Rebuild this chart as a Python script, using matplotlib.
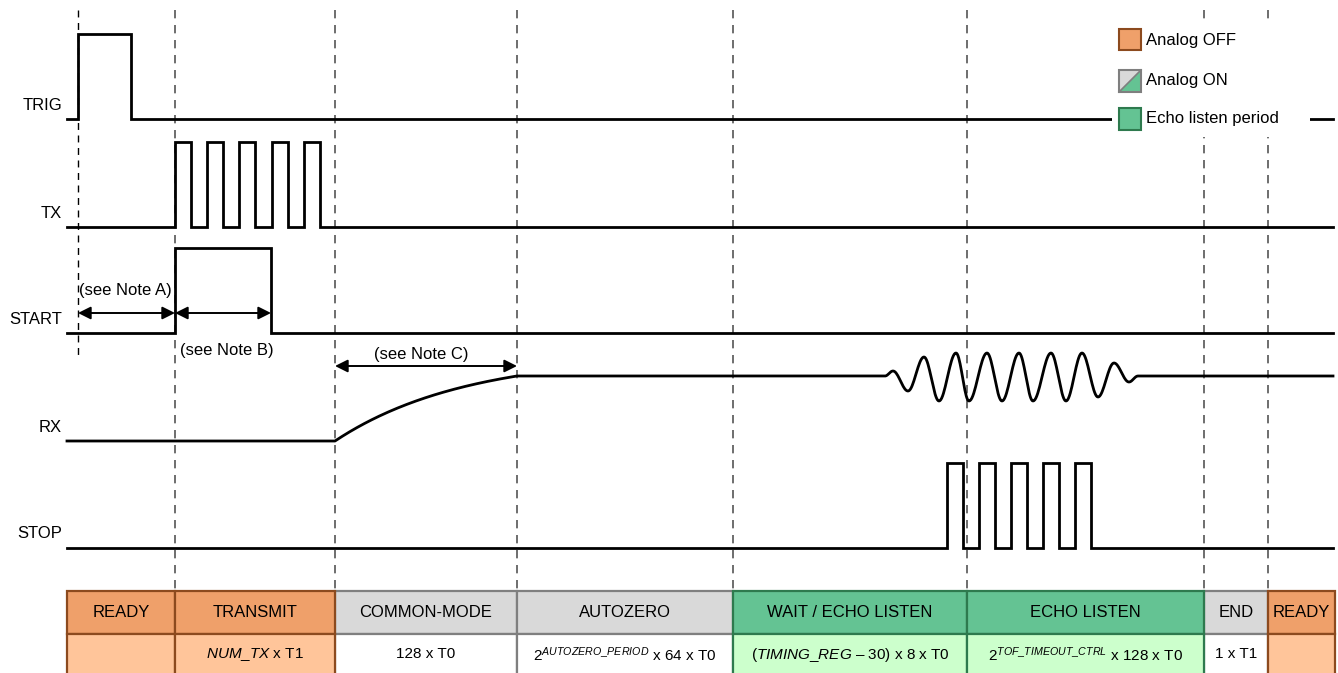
import numpy as np
import matplotlib
matplotlib.use('Agg')
import matplotlib.pyplot as plt
from matplotlib.patches import Rectangle, Polygon

plt.rcParams['font.family'] = ['Liberation Sans', 'DejaVu Sans']
plt.rcParams['mathtext.fontset'] = 'custom'
plt.rcParams['mathtext.rm'] = 'Liberation Sans'
plt.rcParams['mathtext.it'] = 'Liberation Sans:italic'

# ---- data (pixel units of the original drawing) ----
signal_names = ['TRIG', 'TX', 'START', 'RX', 'STOP']
low_levels = [119, 227, 333, 441, 548]
high_levels = [34, 142, 248, 376, 463]

trig_edges = [78, 131]
tx_edges = [175, 191, 207, 223, 239, 255, 272, 288, 304, 320]
start_edges = [175, 271]
stop_edges = [947, 963, 979, 995, 1011, 1027, 1043, 1059, 1075, 1091]

# RX: settle from common mode to bias, then echo burst (extrema)
rx_settle = [335, 517]
rx_burst_x = [885, 893, 908, 924, 939, 956, 969, 987, 1002, 1019, 1033, 1051, 1066, 1082, 1098, 1114, 1129, 1138]
rx_burst_y = [376, 371, 391, 357, 401, 353, 401, 353, 401, 353, 401, 353, 401, 353, 397, 363, 382, 376]

phase_bounds = [67, 175, 335, 517, 733, 967, 1204, 1268, 1335]
phase_names = ['READY', 'TRANSMIT', 'COMMON-MODE', 'AUTOZERO', 'WAIT / ECHO LISTEN',
               'ECHO LISTEN', 'END', 'READY']
phase_times = ['', r'$\mathit{NUM\_TX}$ x T1', '128 x T0',
               r'2$^{\mathit{AUTOZERO\_PERIOD}}$ x 64 x T0',
               r'($\mathit{TIMING\_REG}$ – 30) x 8 x T0',
               r'2$^{\mathit{TOF\_TIMEOUT\_CTRL}}$ x 128 x T0', '1 x T1', '']
phase_kind = ['off', 'off', 'on', 'on', 'echo', 'echo', 'on', 'off']

marker_x = [78, 175, 335, 517, 733, 967, 1204, 1268]

x_left = 67
x_right = 1333
fs = 12

styles = {
    'off': dict(head='#EFA06A', cell='#FFC59A', edge='#8C4A1E'),
    'on': dict(head='#D9D9D9', cell='#FFFFFF', edge='#7F7F7F'),
    'echo': dict(head='#64C393', cell='#CCFFCC', edge='#2E7A4E'),
}


def step_wave(edges, low, high):
	xs = [x_left]
	ys = [low]
	level = low
	for e in edges:
		xs += [e, e]
		ys += [level, high if level == low else low]
		level = ys[-1]
	xs.append(x_right)
	ys.append(level)
	return xs, ys


fig = plt.figure(figsize=(13.38, 6.73), dpi=100)
ax = fig.add_axes([0, 0, 1, 1])
ax.set_xlim(0, 1338)
ax.set_ylim(673, 0)
ax.axis('off')

# dashed phase markers
for i, mx in enumerate(marker_x):
	if i == 0:
		ax.plot([mx, mx], [10, 357], color='black', lw=1.0, ls=(0, (5, 4)), zorder=1)
	else:
		ax.plot([mx, mx], [10, 591], color='#555555', lw=1.2, ls=(0, (5, 4)), zorder=1)

lw_sig = 2.0
for edges, k in [(trig_edges, 0), (tx_edges, 1), (start_edges, 2), (stop_edges, 4)]:
	xs, ys = step_wave(edges, low_levels[k], high_levels[k])
	ax.plot(xs, ys, color='black', lw=lw_sig, solid_joinstyle='miter', zorder=3)

# RX
rx_lo = low_levels[3]
rx_hi = high_levels[3]
t = np.linspace(0, 1, 100)
k_rc = 1.4
curve_y = rx_lo - (rx_lo - rx_hi) * (1 - np.exp(-k_rc * t)) / (1 - np.exp(-k_rc))
curve_x = rx_settle[0] + (rx_settle[1] - rx_settle[0]) * t
bx = []
by = []
for i in range(len(rx_burst_x) - 1):
	s = np.linspace(0, 1, 20)
	bx += list(rx_burst_x[i] + (rx_burst_x[i + 1] - rx_burst_x[i]) * s)
	by += list(rx_burst_y[i] + (rx_burst_y[i + 1] - rx_burst_y[i]) * (1 - np.cos(np.pi * s)) / 2)
rx_x = [x_left, rx_settle[0]] + list(curve_x) + bx + [x_right]
rx_y = [rx_lo, rx_lo] + list(curve_y) + by + [rx_hi]
ax.plot(rx_x, rx_y, color='black', lw=lw_sig, zorder=3)

# signal names
for name, lo in zip(signal_names, low_levels):
	ax.text(62, lo - 14, name, ha='right', va='center', fontsize=fs)

# notes with double arrows
arrow_kw = dict(arrowstyle='<|-|>', color='black', lw=1.4, mutation_scale=19, shrinkA=0, shrinkB=0)
ax.annotate('', xy=(78, 313), xytext=(175, 313), arrowprops=arrow_kw, zorder=4)
ax.annotate('', xy=(175, 313), xytext=(271, 313), arrowprops=arrow_kw, zorder=4)
ax.annotate('', xy=(335, 366), xytext=(517, 366), arrowprops=arrow_kw, zorder=4)
ax.text(79, 291, '(see Note A)', ha='left', va='center', fontsize=fs)
ax.text(180, 351, '(see Note B)', ha='left', va='center', fontsize=fs)
ax.text(421, 355, '(see Note C)', ha='center', va='center', fontsize=fs)

# legend box (covers the TRIG line and markers)
ax.add_patch(Rectangle((1112, 20), 198, 117, facecolor='white', edgecolor='none', zorder=5))
ax.add_patch(Rectangle((1119, 29), 22, 21, facecolor=styles['off']['head'],
                       edgecolor=styles['off']['edge'], lw=1.5, zorder=6))
ax.add_patch(Polygon([(1119, 70), (1141, 70), (1119, 92)], closed=True,
                     facecolor='#D9D9D9', edgecolor='none', zorder=6))
ax.add_patch(Polygon([(1141, 70), (1141, 92), (1119, 92)], closed=True,
                     facecolor=styles['echo']['head'], edgecolor='none', zorder=6))
ax.add_patch(Rectangle((1119, 70), 22, 22, facecolor='none', edgecolor='#7F7F7F', lw=1.5, zorder=7))
ax.plot([1119, 1141], [92, 70], color='#7F7F7F', lw=1.2, zorder=7)
ax.add_patch(Rectangle((1119, 108), 22, 22, facecolor=styles['echo']['head'],
                       edgecolor=styles['echo']['edge'], lw=1.5, zorder=6))
ax.text(1146, 40, 'Analog OFF', ha='left', va='center', fontsize=fs, zorder=7)
ax.text(1146, 81, 'Analog ON', ha='left', va='center', fontsize=fs, zorder=7)
ax.text(1146, 119, 'Echo listen period', ha='left', va='center', fontsize=fs, zorder=7)

# phase table
row_top = 591
row_mid = 634
row_bot = 676
for i in range(len(phase_names)):
	x0 = phase_bounds[i]
	w = phase_bounds[i + 1] - x0
	st = styles[phase_kind[i]]
	z = 8 if phase_kind[i] != 'on' else 7
	ax.add_patch(Rectangle((x0, row_top), w, row_mid - row_top, facecolor=st['head'],
	                       edgecolor=st['edge'], lw=1.6, zorder=z))
	ax.add_patch(Rectangle((x0, row_mid), w, row_bot - row_mid, facecolor=st['cell'],
	                       edgecolor=st['edge'], lw=1.6, zorder=z))
	xc = x0 + w / 2
	ax.text(xc, (row_top + row_mid) / 2, phase_names[i], ha='center', va='center', fontsize=fs, zorder=9)
	ax.text(xc, (row_mid + 673) / 2 + 1, phase_times[i], ha='center', va='center', fontsize=11, zorder=9)

fig.savefig('out.png', dpi=100)
